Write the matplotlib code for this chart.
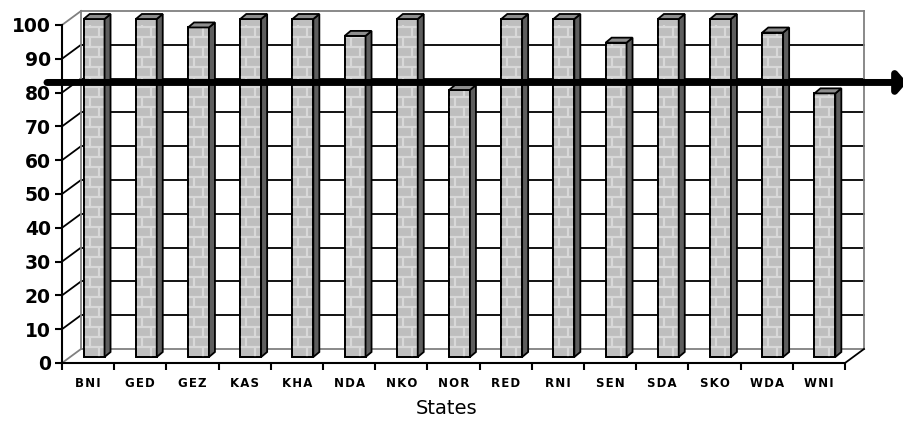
import matplotlib
matplotlib.use("Agg")
import matplotlib.pyplot as plt
import numpy as np
from matplotlib.patches import Polygon, Rectangle
from matplotlib.collections import LineCollection

plt.rcParams["font.family"] = ["DejaVu Sans", "Liberation Sans"]

states = ["BNI", "GED", "GEZ", "KAS", "KHA", "NDA", "NKO", "NOR",
          "RED", "RNI", "SEN", "SDA", "SKO", "WDA", "WNI"]
pct = [100, 100, 97.5, 100, 100, 95, 100, 79, 100, 100, 93, 100, 100, 96, 78]
yticks = list(range(0, 101, 10))
target = 83

W, H = 904, 428
L, R, B, T = 62, 845, 363, 25          # front plane box, pixels
fig = plt.figure(figsize=(W / 100, H / 100), dpi=100)
ax = fig.add_axes([L / W, 1 - B / H, (R - L) / W, (B - T) / H])
ax.set_xlim(-0.5, len(states) - 0.5)
ax.set_ylim(0, 100)
ax.patch.set_alpha(0)

ppx = (R - L) / len(states)   # pixels per category
ppy = (B - T) / 100           # pixels per percent


def dx(px):
    return px / ppx


def dy(px):
    return px / ppy


# depth of the chart box and of the bars
wall_dx, wall_dy = dx(19), dy(14)
face_dx, face_dy = dx(6), dy(6)
bar_dx, bar_dy = dx(6), dy(5)
bar_w = 0.4

x0, x1 = -0.5, len(states) - 0.5
grey = "#808080"

# back wall, gridlines and side wall
for v in yticks:
    c = grey if v in (0, 100) else "black"
    ax.plot([x0 + wall_dx, x1 + wall_dx], [v + wall_dy, v + wall_dy],
            color=c, lw=1.3, zorder=1, clip_on=False)
    ax.plot([x0, x0 + wall_dx], [v, v + wall_dy], color=c, lw=1.3,
            zorder=1, clip_on=False)
for xe in (x0, x1):
    ax.plot([xe + wall_dx, xe + wall_dx], [wall_dy, 100 + wall_dy],
            color=grey, lw=1.3, zorder=1, clip_on=False)
ax.plot([x1, x1 + wall_dx], [0, wall_dy], color="black", lw=1.3,
        zorder=1, clip_on=False)

# bars
xs = np.arange(len(states))
bars = ax.bar(xs + face_dx, pct, width=bar_w, bottom=face_dy,
              color="#bebebe", edgecolor="black", lw=1.3, zorder=3,
              clip_on=False)
brick_h = dy(10)
for rect, v in zip(bars, pct):
    fx0 = rect.get_x()
    fx1 = fx0 + rect.get_width()
    fy0 = rect.get_y()
    fy1 = fy0 + rect.get_height()
    segs = []
    k = 0
    y = fy0
    while y < fy1:
        yn = min(y + brick_h, fy1)
        if yn < fy1:
            segs.append([(fx0, yn), (fx1, yn)])
        jx = fx0 + rect.get_width() * (0.72 if k % 2 == 0 else 0.28)
        segs.append([(jx, y), (jx, yn)])
        y = yn
        k += 1
    ax.add_collection(LineCollection(segs, colors="#d8d8d8", lw=1.6,
                                     zorder=3.5))
    ax.add_patch(Rectangle((fx0, fy0), fx1 - fx0, fy1 - fy0, fill=False,
                           edgecolor="black", lw=1.3, zorder=3.6,
                           clip_on=False))
    side = [(fx1, fy0), (fx1, fy1), (fx1 + bar_dx, fy1 + bar_dy),
            (fx1 + bar_dx, fy0 + bar_dy)]
    ax.add_patch(Polygon(side, closed=True, facecolor="#5e5e5e",
                         edgecolor="black", lw=1.3, zorder=3.6,
                         clip_on=False))
    top = [(fx0, fy1), (fx1, fy1), (fx1 + bar_dx, fy1 + bar_dy),
           (fx0 + bar_dx, fy1 + bar_dy)]
    ax.add_patch(Polygon(top, closed=True, facecolor="#8e8e8e",
                         edgecolor="black", lw=1.3, zorder=3.6,
                         clip_on=False))

# front axes
for side in ("top", "right"):
    ax.spines[side].set_visible(False)
for side in ("left", "bottom"):
    ax.spines[side].set_linewidth(1.5)
    ax.spines[side].set_zorder(4)
ax.set_yticks(yticks)
ax.set_yticklabels([str(v) for v in yticks], fontsize=13.5,
                   fontweight="bold")
ax.tick_params(axis="y", length=5, width=1.5, pad=3)
ax.set_xticks(np.arange(x0, x1 + 0.01, 1))
ax.set_xticklabels([])
ax.tick_params(axis="x", which="major", length=5, width=1.5)
ax.set_xticks(xs, minor=True)
ax.set_xticklabels(["\u200a".join(s) for s in states], minor=True,
                   fontsize=8.5, fontweight="bold")
ax.tick_params(axis="x", which="minor", length=0, pad=10)

fig.text(447 / W, 1 - 408 / H, "States", fontsize=14, ha="center",
         va="center")

# target line with arrow
ax.annotate("", xy=(x0 + dx(W + 3 - L), target), xytext=(x0 - dx(15), target),
            arrowprops=dict(arrowstyle="-|>,head_length=0.35,head_width=0.4",
                            lw=5, color="black", shrinkA=0, shrinkB=0,
                            mutation_scale=16),
            annotation_clip=False, zorder=6)

fig.savefig("out.png", dpi=100)
